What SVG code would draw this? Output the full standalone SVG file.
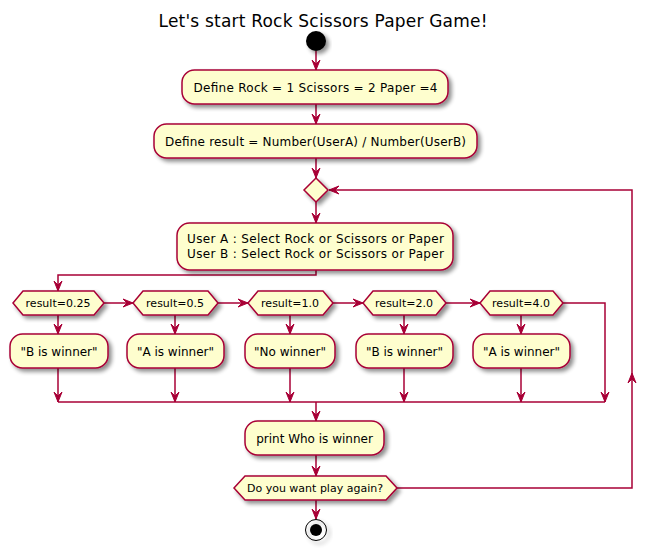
<svg xmlns="http://www.w3.org/2000/svg" width="647" height="550" viewBox="0 0 647 550">
<defs>
<filter id="sh" x="-20%" y="-20%" width="150%" height="160%">
<feGaussianBlur in="SourceAlpha" stdDeviation="2"/>
<feOffset dx="3" dy="3" result="b"/>
<feComponentTransfer><feFuncA type="linear" slope="0.45"/></feComponentTransfer>
<feMerge><feMergeNode/><feMergeNode in="SourceGraphic"/></feMerge>
</filter>
<marker id="ah" markerUnits="userSpaceOnUse" markerWidth="12" markerHeight="10" refX="10" refY="4" orient="auto" overflow="visible">
<path d="M0,0 L10,4 L0,8 L4,4 Z" fill="#A80036" stroke="#A80036" stroke-width="1"/>
</marker>
</defs>
<style>
.n{fill:#FEFECE;stroke:#A80036;stroke-width:1.5;filter:url(#sh)}
.t{font-family:"DejaVu Sans",sans-serif;font-size:12px;fill:#000}
.h{font-family:"DejaVu Sans",sans-serif;font-size:11px;fill:#000;text-anchor:middle}
.c{text-anchor:middle}
.l{fill:none;stroke:#A80036;stroke-width:1.5}
.a{marker-end:url(#ah)}
</style>
<rect width="647" height="550" fill="#FFFFFF"/>
<text x="323" y="27" font-family="DejaVu Sans, sans-serif" font-size="17" text-anchor="middle" textLength="329">Let's start Rock Scissors Paper Game!</text>

<g id="connectors">
<path class="l a" d="M316,51 V70"/>
<path class="l a" d="M316,104 V124"/>
<path class="l a" d="M316,158 V178"/>
<path class="l a" d="M316,202 V223"/>
<path class="l a" d="M316,270 V275 H58 V291"/>
<path class="l a" d="M104,303 H133"/>
<path class="l a" d="M218,303 H248"/>
<path class="l a" d="M333,303 H363"/>
<path class="l a" d="M446,303 H480"/>
<path class="l a" d="M563,303 H605 V402"/>
<path class="l a" d="M58,315 V334"/>
<path class="l a" d="M175,315 V334"/>
<path class="l a" d="M290,315 V334"/>
<path class="l a" d="M404,315 V334"/>
<path class="l a" d="M521,315 V334"/>
<path class="l a" d="M58,368 V402"/>
<path class="l a" d="M175,368 V402"/>
<path class="l a" d="M290,368 V402"/>
<path class="l a" d="M404,368 V402"/>
<path class="l a" d="M521,368 V402"/>
<path class="l" d="M58,402 H605"/>
<path class="l a" d="M316,402 V421"/>
<path class="l a" d="M316,455 V476"/>
<path class="l a" d="M316,500 V519"/>
<path class="l a" d="M397,488 H632 V373"/>
<path class="l a" d="M632,373 V190 H329"/>
</g>

<g id="start"><circle cx="316" cy="41" r="10" fill="#000" filter="url(#sh)"/></g>

<g id="define-rock">
<rect class="n" x="182" y="70" width="266" height="34" rx="12.5"/>
<text class="t c" x="315.5" y="92" textLength="244" lengthAdjust="spacing">Define Rock = 1 Scissors = 2 Paper =4</text>
</g>
<g id="define-result">
<rect class="n" x="154" y="124" width="323" height="34" rx="12.5"/>
<text class="t c" x="315.5" y="146" textLength="301" lengthAdjust="spacing">Define result = Number(UserA) / Number(UserB)</text>
</g>
<g id="merge"><polygon class="n" points="316,178 328,190 316,202 304,190"/></g>
<g id="select">
<rect class="n" x="177" y="223" width="276" height="47" rx="12.5"/>
<text class="t" x="187" y="243" textLength="257" lengthAdjust="spacing">User A : Select Rock or Scissors or Paper</text>
<text class="t" x="187" y="258" textLength="257" lengthAdjust="spacing">User B : Select Rock or Scissors or Paper</text>
</g>

<g id="if1"><polygon class="n" points="13,303 23,291 94,291 104,303 94,315 23,315"/><text class="h" x="58" y="307">result=0.25</text></g>
<g id="if2"><polygon class="n" points="133,303 143,291 208,291 218,303 208,315 143,315"/><text class="h" x="175" y="307">result=0.5</text></g>
<g id="if3"><polygon class="n" points="248,303 258,291 323,291 333,303 323,315 258,315"/><text class="h" x="290" y="307">result=1.0</text></g>
<g id="if4"><polygon class="n" points="363,303 373,291 436,291 446,303 436,315 373,315"/><text class="h" x="404" y="307">result=2.0</text></g>
<g id="if5"><polygon class="n" points="480,303 490,291 553,291 563,303 553,315 490,315"/><text class="h" x="521" y="307">result=4.0</text></g>

<g id="b1"><rect class="n" x="10" y="334" width="98" height="34" rx="12.5"/><text class="t c" x="59" y="356">"B is winner"</text></g>
<g id="a1"><rect class="n" x="127" y="334" width="97" height="34" rx="12.5"/><text class="t c" x="175.5" y="356">"A is winner"</text></g>
<g id="nw"><rect class="n" x="245" y="334" width="90" height="34" rx="12.5"/><text class="t c" x="290" y="356">"No winner"</text></g>
<g id="b2"><rect class="n" x="356" y="334" width="97" height="34" rx="12.5"/><text class="t c" x="404.5" y="356">"B is winner"</text></g>
<g id="a2"><rect class="n" x="473" y="334" width="97" height="34" rx="12.5"/><text class="t c" x="521.5" y="356">"A is winner"</text></g>

<g id="print"><rect class="n" x="245" y="421" width="139" height="34" rx="12.5"/><text class="t c" x="314.5" y="443">print Who is winner</text></g>
<g id="again"><polygon class="n" points="234,488 245,476 386,476 397,488 386,500 245,500"/><text class="h" x="315" y="492">Do you want play again?</text></g>
<g id="end"><circle cx="316" cy="530" r="10.5" fill="none" stroke="#000" stroke-width="1" filter="url(#sh)"/><circle cx="316" cy="530" r="6" fill="#000"/></g>
</svg>
